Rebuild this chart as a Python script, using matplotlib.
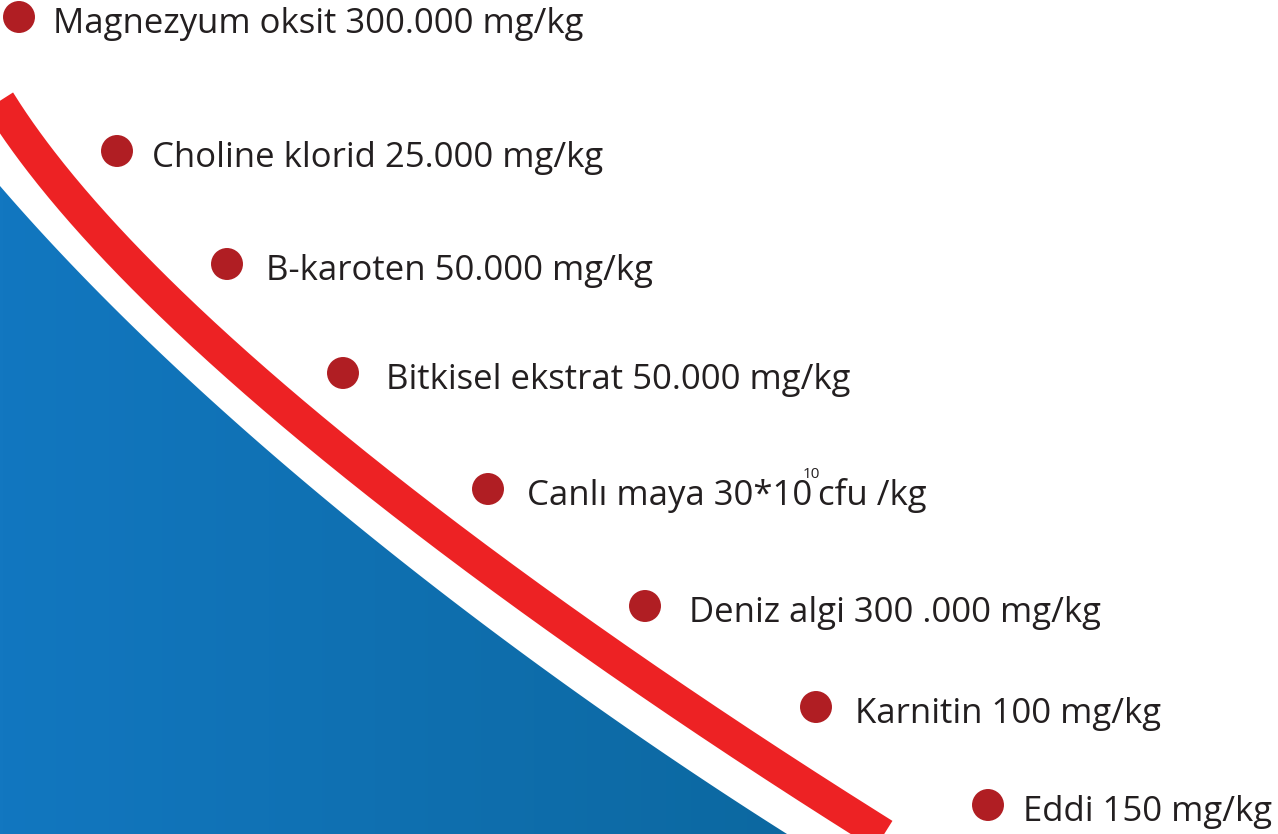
import numpy as np
import matplotlib.pyplot as plt
from matplotlib.patches import Polygon
from matplotlib.colors import LinearSegmentedColormap

# labels of the ingredient list
labels = ["Magnezyum oksit 300.000 mg/kg",
          "Choline klorid 25.000 mg/kg",
          "B-karoten 50.000 mg/kg",
          "Bitkisel ekstrat 50.000 mg/kg",
          "Canlı maya 30*10",
          "Deniz algi 300 .000 mg/kg",
          "Karnitin 100 mg/kg",
          "Eddi 150 mg/kg"]
# dot centres (pixel coords, y down)
dot_x = [19, 117, 227, 343, 488, 645, 816, 988]
dot_y = [17, 151, 264, 373, 489, 606, 707, 805]
# text start x
text_x = [53, 152, 266, 386, 527, 689, 855, 1023]

W, H = 1278, 834

def bezier(p0, p1, p2, p3, n=300):
    t = np.linspace(0, 1, n)[:, None]
    p0, p1, p2, p3 = map(np.array, (p0, p1, p2, p3))
    return (1-t)**3*p0 + 3*(1-t)**2*t*p1 + 3*(1-t)*t**2*p2 + t**3*p3

fig = plt.figure(figsize=(W/100, H/100), dpi=100)
ax = fig.add_axes([0, 0, 1, 1])

# blue area with horizontal gradient
edge = bezier((0, 186), (200, 418), (507, 657), (787, 834))
edge = np.vstack([[-20, 163], edge, [820, 855], [-20, 855]])
poly = Polygon(edge, closed=True, facecolor="none", edgecolor="none")
ax.add_patch(poly)
cmap = LinearSegmentedColormap.from_list("b", ["#1277c0", "#0c68a0"])
grad = np.linspace(0, 1, 256)[None, :]
im = ax.imshow(grad, cmap=cmap, extent=(0, 800, H, 0), aspect="auto", zorder=1)
im.set_clip_path(poly)

# red band
band = bezier((0, 103), (150, 343), (580, 645), (882, 834))
band = np.vstack([[-40, 39], band, [934, 867]])
ax.plot(band[:, 0], band[:, 1], color="#ed2224", lw=24, solid_capstyle="butt", zorder=2)

# dots
ax.scatter(dot_x, dot_y, s=530, color="#b01e23", edgecolors="none", zorder=3)

font = "Open Sans"
for i, lab in enumerate(labels):
    t = ax.text(text_x[i], dot_y[i] + 7, lab, fontsize=25, family=font,
                color="#231f20", va="center", ha="left", zorder=4)
    if lab.startswith("Canlı"):
        ax.annotate("10", xy=(1, 1), xycoords=t, xytext=(-7, -2), textcoords="offset points",
                    fontsize=11, family=font, color="#231f20", ha="left", va="bottom")
        ax.annotate("cfu /kg", xy=(1, 0), xycoords=t, xytext=(4, 0), textcoords="offset points",
                    fontsize=25, family=font, color="#231f20", ha="left", va="bottom")

ax.set_xlim(0, W)
ax.set_ylim(H, 0)
ax.axis("off")
fig.savefig("out.png", dpi=100)
